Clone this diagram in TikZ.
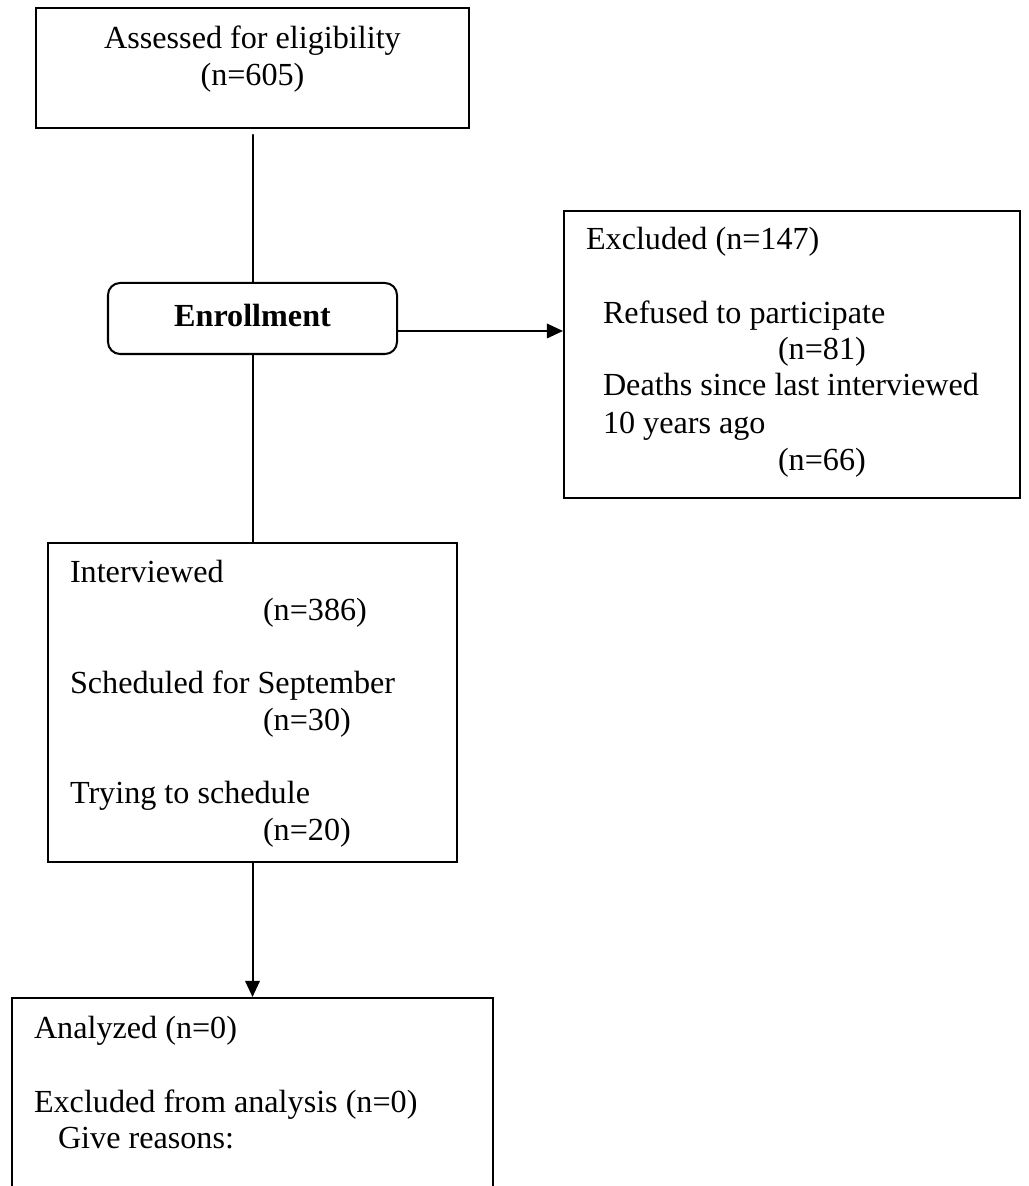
\documentclass[tikz,border=0pt]{standalone}
\usepackage{fontspec}
\setmainfont{Liberation Serif}
\usetikzlibrary{arrows.meta,fit}

\begin{document}
\begin{tikzpicture}[line cap=round,line join=miter,>={Triangle[length=6pt,width=5.4pt]},x=0.3731pt,y=-0.3731pt,line width=0.75pt,
  box/.style={draw,inner sep=0pt},
  txt/.style={anchor=base west,inner sep=0pt,font=\fontsize{12pt}{13.8pt}\selectfont}]
\useasboundingbox (0, 0) rectangle (1028, 1186);
\clip (0, 0) rectangle (1028, 1186);

\node[box, fit={(36, 8) (469, 128)}] (assessed) {};
\node[txt, anchor=base] (assessedA) at (252.5, 49) {Assessed for eligibility};
\node[txt, anchor=base] (assessedB) at (252.5, 86) {(n=605)};

\node[box, rounded corners=4.5pt, fit={(108, 283) (397, 354)}] (enroll) {};
\node[txt, anchor=base] (enrollA) at (252.5, 327) {\textbf{Enrollment}};

\node[box, fit={(564, 211) (1020, 498)}] (excluded) {};
\node[txt] (excludedA) at (585, 250) {Excluded (n=147)};
\node[txt] (excludedB) at (602, 324) {Refused to participate};
\node[txt] (excludedC) at (777, 360) {(n=81)};
\node[txt] (excludedD) at (602, 396) {Deaths since last interviewed};
\node[txt] (excludedE) at (602, 434) {10 years ago};
\node[txt] (excludedF) at (777, 471) {(n=66)};

\node[box, fit={(48, 543) (457, 862)}] (interviewed) {};
\node[txt] (interviewedA) at (69, 583) {Interviewed};
\node[txt] (interviewedB) at (262, 620) {(n=386)};
\node[txt] (interviewedC) at (69, 693) {Scheduled for September};
\node[txt] (interviewedD) at (262, 730) {(n=30)};
\node[txt] (interviewedE) at (69, 803) {Trying to schedule};
\node[txt] (interviewedF) at (262, 840) {(n=20)};

\node[box, fit={(12, 998) (493, 1210)}] (analyzed) {};
\node[txt] (analyzedA) at (33, 1038) {Analyzed (n=0)};
\node[txt] (analyzedB) at (33, 1112) {Excluded from analysis (n=0)};
\node[txt] (analyzedC) at (57, 1148) {Give reasons:};

% connectors
\draw[shorten <=2.2pt] (assessed) -- (enroll);
\draw[->] ([yshift=-4.66pt]enroll.east) -- ([yshift=-4.66pt]enroll.east -| excluded.west);
\draw (enroll) -- (interviewed);
\draw[->] (interviewed) -- (analyzed);

\end{tikzpicture}
\end{document}
